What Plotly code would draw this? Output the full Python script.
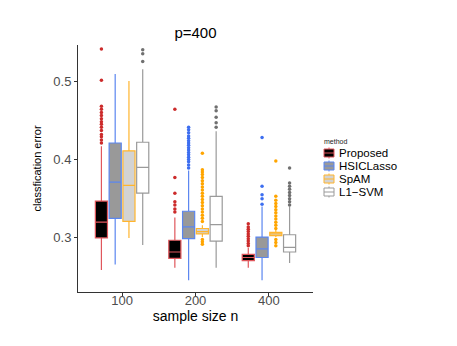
import plotly.graph_objects as go

# sample sizes (x categories)
sizes = ["100", "200", "400"]
methods = ["Proposed", "HSICLasso", "SpAM", "L1\u2212SVM"]

# box statistics per method, one value per sample size
q1 = {
    "Proposed": [0.300, 0.274, 0.271],
    "HSICLasso": [0.325, 0.299, 0.275],
    "SpAM": [0.321, 0.305, 0.303],
    "L1\u2212SVM": [0.357, 0.296, 0.282],
}
median = {
    "Proposed": [0.320, 0.282, 0.275],
    "HSICLasso": [0.371, 0.314, 0.286],
    "SpAM": [0.367, 0.308, 0.305],
    "L1\u2212SVM": [0.390, 0.317, 0.288],
}
q3 = {
    "Proposed": [0.347, 0.297, 0.279],
    "HSICLasso": [0.421, 0.334, 0.301],
    "SpAM": [0.411, 0.312, 0.307],
    "L1\u2212SVM": [0.422, 0.353, 0.304],
}
lower = {
    "Proposed": [0.259, 0.262, 0.262],
    "HSICLasso": [0.266, 0.246, 0.246],
    "SpAM": [0.300, 0.301, 0.301],
    "L1\u2212SVM": [0.291, 0.262, 0.268],
}
upper = {
    "Proposed": [0.417, 0.326, 0.287],
    "HSICLasso": [0.509, 0.386, 0.340],
    "SpAM": [0.500, 0.316, 0.310],
    "L1\u2212SVM": [0.515, 0.436, 0.340],
}

# outliers per method, one list per sample size
outliers = {
    "Proposed": [
        [0.421, 0.425, 0.429, 0.432, 0.437, 0.441, 0.445, 0.448, 0.452, 0.456, 0.460, 0.464, 0.468, 0.501, 0.541],
        [0.333, 0.337, 0.342, 0.346, 0.357, 0.377, 0.464],
        [0.290, 0.293, 0.296, 0.299, 0.302, 0.305, 0.308, 0.311, 0.314, 0.318],
    ],
    "HSICLasso": [
        [],
        [0.389, 0.393, 0.397, 0.400, 0.403, 0.406, 0.409, 0.412, 0.415, 0.418,
         0.421, 0.424, 0.427, 0.430, 0.434, 0.438, 0.441],
        [0.343, 0.350, 0.355, 0.366, 0.428],
    ],
    "SpAM": [
        [],
        [0.292, 0.295, 0.298, 0.321, 0.325, 0.329, 0.333, 0.337, 0.341, 0.345, 0.349,
         0.353, 0.357, 0.361, 0.365, 0.369, 0.373, 0.377, 0.381, 0.384, 0.387, 0.408],
        [0.290, 0.294, 0.298, 0.312, 0.316, 0.320, 0.324, 0.328, 0.332, 0.336,
         0.340, 0.344, 0.348, 0.353, 0.398],
    ],
    "L1\u2212SVM": [
        [0.525, 0.535, 0.540],
        [0.441, 0.447, 0.454, 0.462, 0.467],
        [0.342, 0.346, 0.350, 0.354, 0.358, 0.362, 0.366, 0.370, 0.389],
    ],
}

FILL = {"Proposed": "#000000", "HSICLasso": "#999999", "SpAM": "#D3D3D3", "L1\u2212SVM": "#FFFFFF"}
LINE = {"Proposed": "#E0575C", "HSICLasso": "#5B86F0", "SpAM": "#FFB52E", "L1\u2212SVM": "#9A9A9A"}
PT = {"Proposed": "#CC2B2B", "HSICLasso": "#3D6EF0", "SpAM": "#FFA500", "L1\u2212SVM": "#707070"}

DODGE = 0.1875
BOXW = 0.165

# figure geometry (page body has an 8px margin)
W, H = 441, 330
L, T, PW, PH = 70, 37, 235, 247
KEY_TOP, KEY_STEP = 145, 13


def px(x):
    return (x - L) / PW


def py(y):
    return (T + PH - y) / PH


fig = go.Figure()
for k, m in enumerate(methods):
    off = (k - 1.5) * DODGE
    xs = [i + 1 + off for i in range(len(sizes))]
    fig.add_trace(go.Box(
        name=m, x=xs, q1=q1[m], median=median[m], q3=q3[m],
        lowerfence=lower[m], upperfence=upper[m],
        width=BOXW, whiskerwidth=0,
        fillcolor=FILL[m], line=dict(color=LINE[m], width=1.2),
        boxpoints=False, hoverinfo="skip", showlegend=False,
    ))
    ox, oy = [], []
    for i, vals in enumerate(outliers[m]):
        ox += [xs[i]] * len(vals)
        oy += vals
    fig.add_trace(go.Scatter(
        x=ox, y=oy, mode="markers", showlegend=False,
        marker=dict(color=PT[m], size=3.5), hoverinfo="skip",
    ))

    # hand-drawn legend key (ggplot style)
    cy = KEY_TOP + KEY_STEP * k
    x0, x1 = 316, 326
    common = dict(xref="paper", yref="paper", layer="above")
    fig.add_shape(type="line", x0=px((x0 + x1) / 2), x1=px((x0 + x1) / 2),
                  y0=py(cy - 5.5), y1=py(cy + 5.5), line=dict(color=LINE[m], width=1), **common)
    fig.add_shape(type="rect", x0=px(x0), x1=px(x1), y0=py(cy - 4), y1=py(cy + 4),
                  fillcolor=FILL[m], line=dict(color=LINE[m], width=1), **common)
    fig.add_shape(type="line", x0=px(x0), x1=px(x1), y0=py(cy), y1=py(cy),
                  line=dict(color=LINE[m], width=1), **common)
    fig.add_annotation(text=m, xref="paper", yref="paper", x=px(330), y=py(cy),
                       xanchor="left", yanchor="middle", showarrow=False, borderpad=0,
                       font=dict(size=11.5, color="#000000"))

fig.add_annotation(text="method", xref="paper", yref="paper", x=px(315), y=py(133),
                   xanchor="left", yanchor="middle", showarrow=False, borderpad=0,
                   font=dict(size=7, color="#222222"))

fig.update_layout(
    width=W, height=H,
    paper_bgcolor="white", plot_bgcolor="white",
    margin=dict(l=L, r=W - L - PW, t=T, b=H - T - PH),
    font=dict(family="Liberation Sans, Arial, sans-serif", color="#000000"),
    title=dict(text="p=400", x=(L + PW / 2) / W, xanchor="center", y=1 - 25 / H, yanchor="middle",
               font=dict(size=15, color="#000000")),
    showlegend=False,
    boxmode="overlay",
)
fig.update_xaxes(
    range=[0.4, 3.6], tickvals=[1, 2, 3], ticktext=sizes,
    showline=True, linecolor="#333333", linewidth=1,
    ticks="outside", ticklen=3, tickcolor="#333333",
    tickfont=dict(size=13, color="#4D4D4D"), ticklabelstandoff=-7,
    showgrid=False, zeroline=False,
    title=dict(text="sample size n", font=dict(size=14), standoff=0),
)
fig.update_yaxes(
    range=[0.231, 0.546], tickvals=[0.3, 0.4, 0.5], ticktext=["0.3", "0.4", "0.5"],
    showline=True, linecolor="#333333", linewidth=1,
    ticks="outside", ticklen=3, tickcolor="#333333",
    tickfont=dict(size=13, color="#4D4D4D"),
    showgrid=False, zeroline=False,
    title=dict(text="classfication error", font=dict(size=11), standoff=9),
)

fig.write_html("out.html")
